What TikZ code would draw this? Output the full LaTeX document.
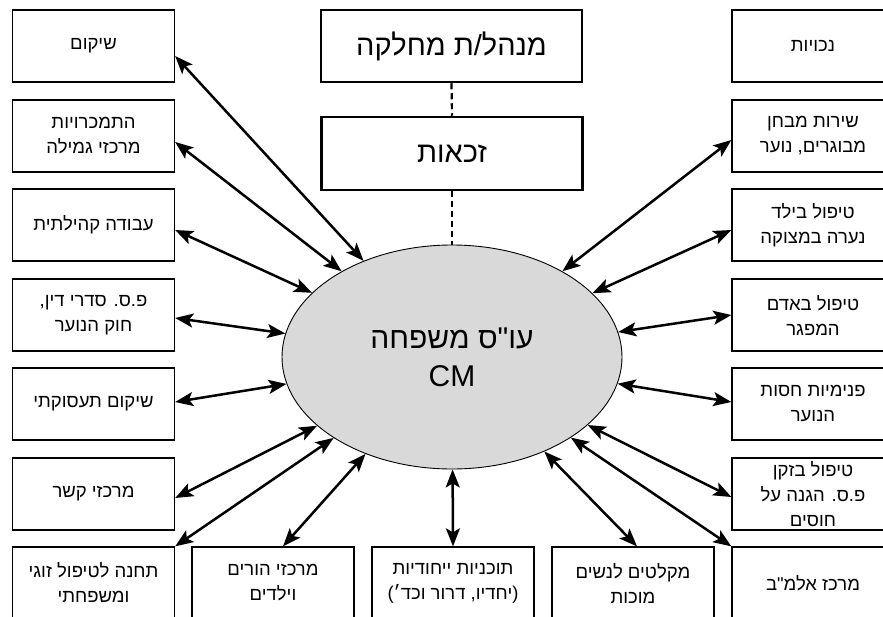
\documentclass[tikz,border=0pt]{standalone}
\usepackage{fontspec}
\usetikzlibrary{shapes.geometric,arrows.meta,calc}
\newfontfamily\hebfont[Script=Hebrew]{Liberation Sans}
\TeXXeTstate=1
\newcommand{\heR}[1]{\beginR#1\endR}
\definecolor{ellgray}{RGB}{217,217,217}
\begin{document}
\begin{tikzpicture}[x=1pt,y=-1pt,
  boxnode/.style={draw, line width=1.3pt, minimum width=162pt, minimum height=72pt, inner sep=0pt, align=center, font=\hebfont\fontsize{18.5}{25}\selectfont},
  topnode/.style={draw, line width=2.5pt, minimum width=261pt, minimum height=72pt, inner sep=0pt, font=\hebfont\fontsize{29}{34}\selectfont},
  ellnode/.style={ellipse, draw, line width=0.9pt, fill=ellgray, minimum width=340pt, minimum height=224pt, inner sep=0pt, align=center, font=\hebfont\fontsize{30}{38}\selectfont},
  link/.style={line width=2.5pt, {Stealth[length=18pt,width=14pt,inset=4pt]}-{Stealth[length=18pt,width=14pt,inset=4pt]}},
  dashlink/.style={line width=2.2pt, dash pattern=on 6pt off 4pt}]
\useasboundingbox (0,0) rectangle (883,616);
\clip (0,0) rectangle (883,616);
% top boxes
\node[topnode] (t1) at (451.5,46) {\heR{מנהל/ת מחלקה}};
\node[topnode, minimum height=73pt] (t2) at (452,153.5) {\heR{זכאות}};
% ellipse
\node[ellnode] (e) at (452,357) {\heR{עו"ס משפחה}\\CM};
% left column
\node[boxnode] (l1) at (93.5,46) {\heR{שיקום}};
\node[boxnode] (l2) at (93.5,136) {\heR{התמכרויות}\\\heR{מרכזי גמילה}};
\node[boxnode] (l3) at (93.5,225) {\heR{עבודה קהילתית}};
\node[boxnode] (l4) at (93.5,315) {\heR{פ.ס. סדרי דין,}\\\heR{חוק הנוער}};
\node[boxnode] (l5) at (93.5,404) {\heR{שיקום תעסוקתי}};
\node[boxnode] (l6) at (93.5,494) {\heR{מרכזי קשר}};
\node[boxnode] (l7) at (93.5,583) {\heR{תחנה לטיפול זוגי}\\\heR{ומשפחתי}};
% bottom row
\node[boxnode] (b1) at (273,583) {\heR{מרכזי הורים}\\\heR{וילדים}};
\node[boxnode] (b2) at (453,583) {\heR{תוכניות ייחודיות}\\\heR{(יחדיו, דרור וכד׳)}};
\node[boxnode] (b3) at (633,583) {\heR{מקלטים לנשים}\\\heR{מוכות}};
% right column
\node[boxnode] (r1) at (813,46) {\heR{נכויות}};
\node[boxnode] (r2) at (813,136) {\heR{שירות מבחן}\\\heR{מבוגרים, נוער}};
\node[boxnode] (r3) at (813,225) {\heR{טיפול בילד}\\\heR{נערה במצוקה}};
\node[boxnode] (r4) at (813,315) {\heR{טיפול באדם}\\\heR{המפגר}};
\node[boxnode] (r5) at (813,404) {\heR{פנימיות חסות}\\\heR{הנוער}};
\node[boxnode] (r6) at (813,494) {\heR{טיפול בזקן}\\\heR{פ.ס. הגנה על}\\\heR{חוסים}};
\node[boxnode] (r7) at (813,583) {\heR{מרכז אלמ"ב}};
% dashed links
\draw[dashlink] (t1.south) -- (t2.north);
\draw[dashlink] (t2.south) -- (e.north);
% arrows
\draw[link] ($(l1.east)+(0,10)$) -- (e);
\draw[link] ($(l2.east)+(0,6)$) -- (e);
\draw[link] ($(l3.east)+(0,5)$) -- (e);
\draw[link] ($(l4.east)+(0,3)$) -- (e);
\draw[link] ($(l5.east)+(0,-2)$) -- (e);
\draw[link] ($(l6.east)+(0,4)$) -- (e);
\draw[link] (l7.north east) -- (e);
\draw[link] ($(b1.north)+(10,0)$) -- (e);
\draw[link] (b2.north) -- (e);
\draw[link] ($(b3.north)+(4,0)$) -- (e);
\draw[link] ($(r2.west)+(0,4)$) -- (e);
\draw[link] ($(r3.west)+(0,5)$) -- (e);
\draw[link] (r4.west) -- (e);
\draw[link] ($(r5.west)+(0,-2)$) -- (e);
\draw[link] ($(r6.west)+(0,3)$) -- (e);
\draw[link] (r7.north west) -- (e);
\end{tikzpicture}
\end{document}
